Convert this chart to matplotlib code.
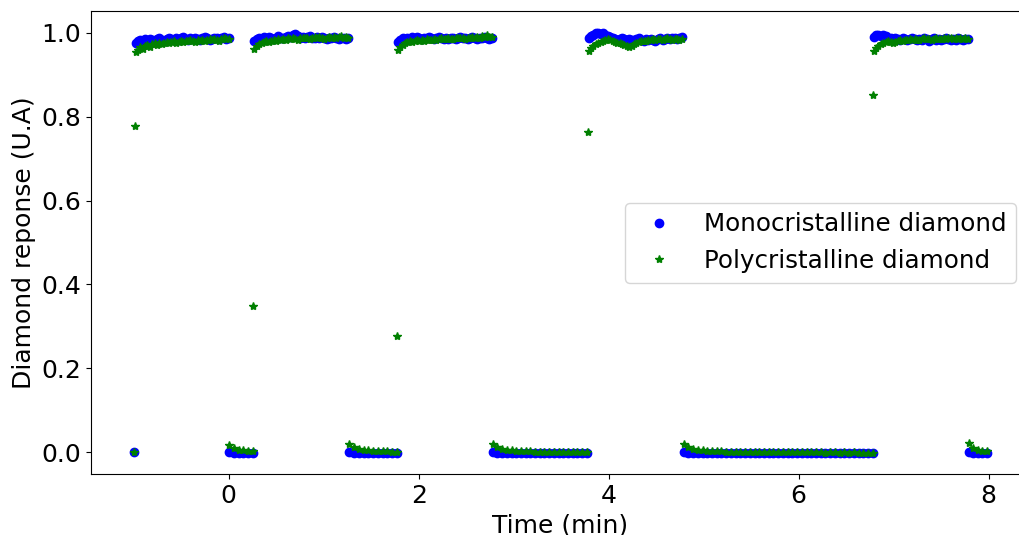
import matplotlib.pyplot as plt
import numpy as np

# recorded segments: start / end time (min), samples evenly spaced inside
seg_start = [-1.00, -0.98, 0.00, 0.27, 1.27, 1.78, 2.78, 3.79, 4.79, 6.79, 7.79]
seg_end = [-1.00, 0.00, 0.26, 1.26, 1.77, 2.77, 3.77, 4.77, 6.78, 7.78, 7.98]

mono_segs = [
    [0.000],
    [0.976, 0.980, 0.983, 0.981, 0.985, 0.982, 0.986, 0.984, 0.981, 0.985,
     0.988, 0.984, 0.982, 0.986, 0.989, 0.985, 0.983, 0.987, 0.984, 0.988,
     0.990, 0.986, 0.983, 0.987, 0.985, 0.989, 0.986, 0.984, 0.988, 0.991,
     0.987, 0.984, 0.986, 0.989, 0.987, 0.985, 0.988, 0.990, 0.986, 0.987],
    [-0.001, -0.002, -0.002, -0.003, -0.002, -0.003],
    [0.981, 0.985, 0.988, 0.986, 0.990, 0.987, 0.991, 0.988, 0.986, 0.989,
     0.992, 0.989, 0.987, 0.990, 0.993, 0.990, 0.995, 0.997, 0.992, 0.989,
     0.991, 0.988, 0.990, 0.993, 0.989, 0.987, 0.990, 0.988, 0.991, 0.989,
     0.986, 0.989, 0.987, 0.990, 0.988, 0.986, 0.989, 0.987, 0.985, 0.988],
    [-0.001, -0.002, -0.002, -0.002, -0.003, -0.002, -0.003, -0.002, -0.003,
     -0.003, -0.002],
    [0.979, 0.983, 0.987, 0.985, 0.989, 0.986, 0.990, 0.988, 0.991, 0.987,
     0.985, 0.989, 0.987, 0.990, 0.988, 0.986, 0.989, 0.991, 0.987, 0.985,
     0.988, 0.986, 0.989, 0.987, 0.985, 0.988, 0.990, 0.987, 0.989, 0.986,
     0.988, 0.991, 0.988, 0.986, 0.989, 0.987, 0.990, 0.988, 0.986, 0.988],
    [-0.001, -0.002, -0.002, -0.003, -0.002, -0.003, -0.002, -0.003, -0.003,
     -0.002, -0.003, -0.002, -0.003, -0.003, -0.002, -0.003, -0.002, -0.003,
     -0.003, -0.002, -0.003],
    [0.987, 0.992, 0.996, 0.999, 1.001, 0.998, 1.000, 0.996, 0.993, 0.990,
     0.987, 0.985, 0.983, 0.986, 0.988, 0.985, 0.983, 0.986, 0.984, 0.982,
     0.985, 0.987, 0.984, 0.982, 0.985, 0.983, 0.986, 0.984, 0.982, 0.985,
     0.987, 0.984, 0.986, 0.988, 0.985, 0.987, 0.989, 0.986, 0.988, 0.990],
    [-0.001, -0.002, -0.002, -0.003, -0.002, -0.003, -0.002, -0.003, -0.003,
     -0.002, -0.003, -0.002, -0.003, -0.003, -0.002, -0.003, -0.002, -0.003,
     -0.003, -0.002, -0.003, -0.002, -0.003, -0.003, -0.002, -0.003, -0.002,
     -0.003, -0.003, -0.002, -0.003, -0.002, -0.003, -0.003, -0.002, -0.003,
     -0.002, -0.003, -0.003, -0.002, -0.003],
    [0.991, 0.994, 0.996, 0.993, 0.995, 0.992, 0.989, 0.987, 0.985, 0.988,
     0.986, 0.984, 0.987, 0.985, 0.983, 0.986, 0.988, 0.985, 0.983, 0.986,
     0.984, 0.987, 0.985, 0.982, 0.985, 0.987, 0.984, 0.986, 0.983, 0.985,
     0.988, 0.985, 0.983, 0.986, 0.984, 0.987, 0.985, 0.983, 0.986, 0.985],
    [-0.001, -0.002, -0.002, -0.003, -0.002],
]

poly_segs = [
    [0.000],
    [0.955, 0.960, 0.966, 0.962, 0.969, 0.972, 0.966, 0.973, 0.975, 0.972,
     0.976, 0.974, 0.977, 0.979, 0.976, 0.978, 0.980, 0.977, 0.979, 0.981,
     0.979, 0.982, 0.980, 0.983, 0.981, 0.979, 0.983, 0.982, 0.984, 0.981,
     0.983, 0.985, 0.983, 0.986, 0.984, 0.982, 0.985, 0.987, 0.985, 0.986],
    [0.018, 0.010, 0.006, 0.004, 0.003, 0.002],
    [0.962, 0.968, 0.973, 0.977, 0.979, 0.981, 0.979, 0.982, 0.984, 0.982,
     0.985, 0.983, 0.986, 0.984, 0.987, 0.985, 0.988, 0.986, 0.984, 0.987,
     0.989, 0.987, 0.988, 0.986, 0.989, 0.991, 0.988, 0.990, 0.988, 0.986,
     0.989, 0.991, 0.989, 0.990, 0.988, 0.990, 0.992, 0.989, 0.990, 0.988],
    [0.020, 0.011, 0.007, 0.005, 0.004, 0.003, 0.002, 0.002, 0.002, 0.001,
     0.001],
    [0.960, 0.966, 0.971, 0.975, 0.978, 0.980, 0.978, 0.981, 0.983, 0.981,
     0.984, 0.982, 0.985, 0.983, 0.984, 0.986, 0.984, 0.985, 0.987, 0.985,
     0.986, 0.988, 0.986, 0.985, 0.987, 0.989, 0.987, 0.988, 0.986, 0.989,
     0.988, 0.990, 0.988, 0.991, 0.989, 0.993, 0.990, 0.994, 0.991, 0.990],
    [0.020, 0.011, 0.007, 0.005, 0.004, 0.003, 0.002, 0.002, 0.002, 0.001,
     0.001, 0.001, 0.001, 0.000, 0.001, 0.000, 0.000, 0.000, -0.001, 0.000,
     -0.001],
    [0.958, 0.964, 0.970, 0.974, 0.977, 0.979, 0.981, 0.983, 0.985, 0.983,
     0.981, 0.979, 0.977, 0.976, 0.974, 0.972, 0.969, 0.966, 0.970, 0.974,
     0.977, 0.979, 0.981, 0.980, 0.982, 0.984, 0.983, 0.985, 0.984, 0.986,
     0.985, 0.983, 0.985, 0.987, 0.985, 0.984, 0.986, 0.985, 0.984, 0.985],
    [0.019, 0.011, 0.007, 0.005, 0.004, 0.003, 0.002, 0.002, 0.002, 0.001,
     0.001, 0.001, 0.001, 0.000, 0.001, 0.000, 0.000, 0.000, 0.000, 0.000,
     -0.001, 0.000, -0.001, -0.001, 0.000, -0.001, -0.001, -0.001, -0.001,
     -0.001, -0.002, -0.001, -0.001, -0.002, -0.001, -0.002, -0.001, -0.002,
     -0.002, -0.002, -0.002],
    [0.958, 0.964, 0.969, 0.973, 0.976, 0.978, 0.980, 0.978, 0.975, 0.979,
     0.981, 0.983, 0.982, 0.984, 0.983, 0.985, 0.984, 0.986, 0.984, 0.983,
     0.985, 0.987, 0.985, 0.986, 0.984, 0.986, 0.988, 0.986, 0.985, 0.987,
     0.986, 0.988, 0.987, 0.985, 0.987, 0.986, 0.988, 0.986, 0.987, 0.986],
    [0.021, 0.010, 0.005, 0.003, 0.002],
]

# single poly samples caught during the on/off switching
poly_jump_t = [-0.99, 0.26, 1.77, 3.78, 6.78]
poly_jump_y = [0.777, 0.348, 0.277, 0.764, 0.852]

t_mono, y_mono, t_poly, y_poly = [], [], [], []
for t0, t1, m, p in zip(seg_start, seg_end, mono_segs, poly_segs):
    t_mono.extend(np.linspace(t0, t1, len(m)))
    y_mono.extend(m)
    t_poly.extend(np.linspace(t0, t1, len(p)))
    y_poly.extend(p)
t_poly.extend(poly_jump_t)
y_poly.extend(poly_jump_y)

plt.rcParams['font.size'] = 18
fig = plt.figure(figsize=(10.19, 5.35), dpi=100)
# axes run past the right edge of the picture (original was cropped)
ax = fig.add_axes([0.0893, 0.1135, 0.920, 0.866])
ax.plot(t_mono, y_mono, 'bo', label='Monocristalline diamond')
ax.plot(t_poly, y_poly, 'g*', label='Polycristalline diamond')
ax.set_xlim(-1.449, 8.42)
ax.set_ylim(-0.053, 1.0525)
ax.spines['right'].set_visible(False)
ax.set_xlabel('Time (min)')
ax.set_ylabel('Diamond reponse (U.A)')
ax.legend(loc='center right', fontsize=17.7)
fig.savefig('out.png', dpi=100)
